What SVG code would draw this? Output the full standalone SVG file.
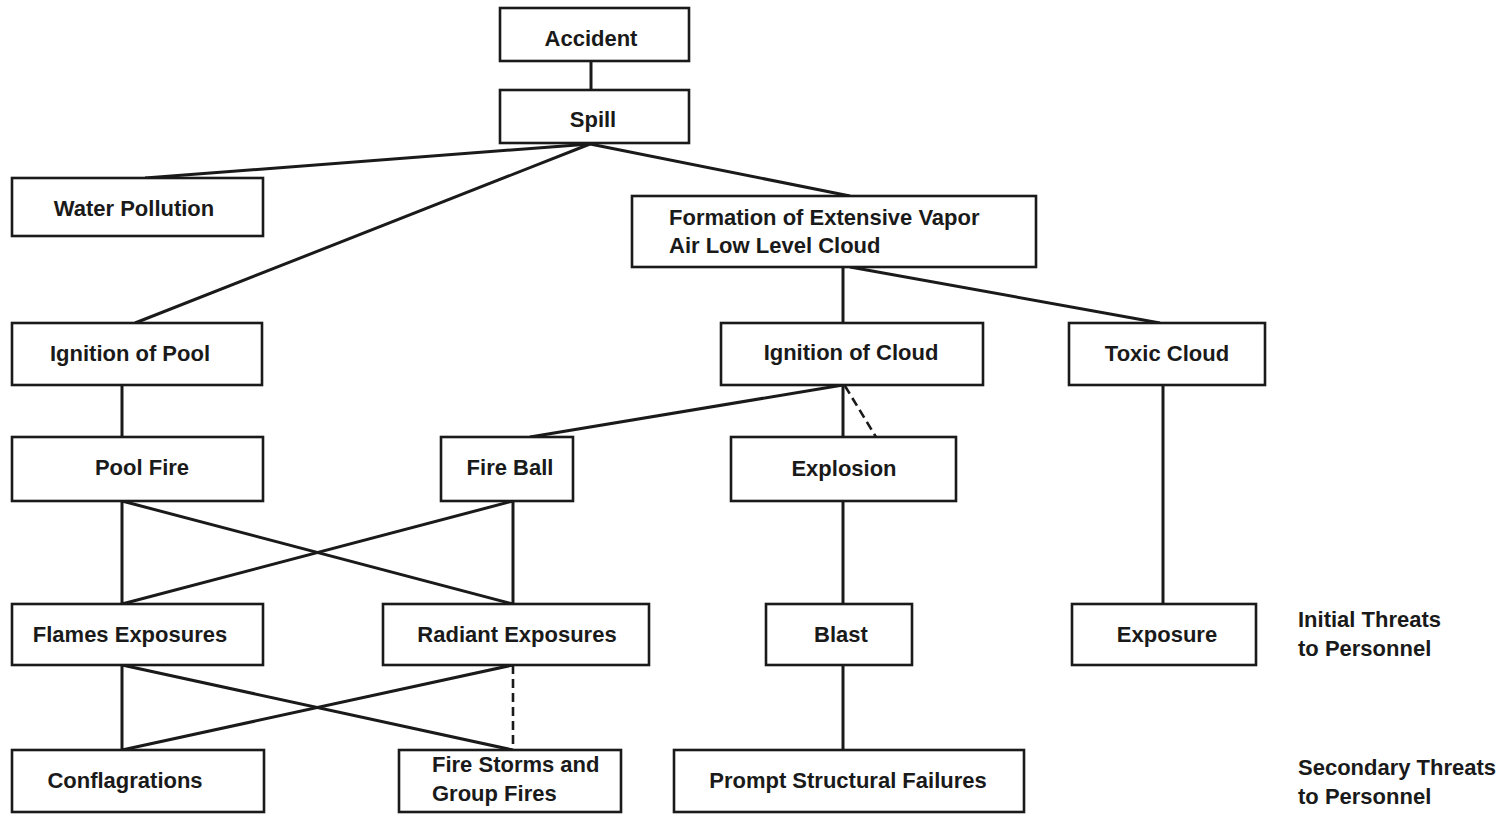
<svg xmlns="http://www.w3.org/2000/svg" width="1508" height="814" viewBox="0 0 1508 814">
<style>
rect{fill:#fff;stroke:#1a1a1a;stroke-width:2.6}
text{font-family:"Liberation Sans",Arial,sans-serif;font-weight:bold;font-size:22px;fill:#1a1a1a}
.m{text-anchor:middle}
#connectors line{stroke:#1a1a1a;stroke-width:3;fill:none}
#connectors .d{stroke-dasharray:9 5;stroke-width:2.6}
</style>
<rect x="0" y="0" width="1508" height="814" style="fill:#fff;stroke:none"/>
<g id="connectors">
<line x1="591" y1="61" x2="591" y2="90"/>
<line x1="590" y1="144" x2="145" y2="178"/>
<line x1="590" y1="144" x2="135" y2="323"/>
<line x1="590" y1="144" x2="850" y2="196"/>
<line x1="843" y1="267" x2="843" y2="323"/>
<line x1="850" y1="267" x2="1160" y2="323"/>
<line x1="122" y1="385" x2="122" y2="437"/>
<line x1="843" y1="385" x2="530" y2="437"/>
<line x1="843" y1="385" x2="843" y2="437"/>
<line class="d" x1="845" y1="386" x2="876" y2="437"/>
<line x1="1163" y1="385" x2="1163" y2="604"/>
<line x1="122" y1="501" x2="122" y2="604"/>
<line x1="122" y1="501" x2="513" y2="604"/>
<line x1="513" y1="501" x2="122" y2="604"/>
<line x1="513" y1="501" x2="513" y2="604"/>
<line x1="843" y1="501" x2="843" y2="604"/>
<line x1="122" y1="665" x2="122" y2="750"/>
<line x1="122" y1="665" x2="513" y2="750"/>
<line x1="513" y1="665" x2="122" y2="750"/>
<line class="d" x1="513" y1="665" x2="513" y2="750"/>
<line x1="843" y1="665" x2="843" y2="750"/>
</g>
<g id="accident"><rect x="500" y="8" width="189" height="53"/><text class="m" x="591" y="46">Accident</text></g>
<g id="spill"><rect x="500" y="90" width="189" height="53"/><text class="m" x="593" y="127">Spill</text></g>
<g id="water-pollution"><rect x="12" y="178" width="251" height="58"/><text class="m" x="134" y="216">Water Pollution</text></g>
<g id="formation"><rect x="632" y="196" width="404" height="71"/><text x="669" y="225">Formation of Extensive Vapor</text><text x="669" y="253">Air Low Level Cloud</text></g>
<g id="ignition-pool"><rect x="12" y="323" width="250" height="62"/><text class="m" x="130" y="361">Ignition of Pool</text></g>
<g id="ignition-cloud"><rect x="721" y="323" width="262" height="62"/><text class="m" x="851" y="360">Ignition of Cloud</text></g>
<g id="toxic-cloud"><rect x="1069" y="323" width="196" height="62"/><text class="m" x="1167" y="361">Toxic Cloud</text></g>
<g id="pool-fire"><rect x="12" y="437" width="251" height="64"/><text class="m" x="142" y="475">Pool Fire</text></g>
<g id="fire-ball"><rect x="441" y="437" width="132" height="64"/><text class="m" x="510" y="475">Fire Ball</text></g>
<g id="explosion"><rect x="731" y="437" width="225" height="64"/><text class="m" x="844" y="476">Explosion</text></g>
<g id="flames-exposures"><rect x="12" y="604" width="251" height="61"/><text class="m" x="130" y="642">Flames Exposures</text></g>
<g id="radiant-exposures"><rect x="383" y="604" width="266" height="61"/><text class="m" x="517" y="642">Radiant Exposures</text></g>
<g id="blast"><rect x="766" y="604" width="146" height="61"/><text class="m" x="841" y="642">Blast</text></g>
<g id="exposure"><rect x="1072" y="604" width="184" height="61"/><text class="m" x="1167" y="642">Exposure</text></g>
<g id="conflagrations"><rect x="12" y="750" width="252" height="62"/><text class="m" x="125" y="788">Conflagrations</text></g>
<g id="fire-storms"><rect x="399" y="750" width="222" height="62"/><text x="432" y="772">Fire Storms and</text><text x="432" y="801">Group Fires</text></g>
<g id="prompt-structural"><rect x="674" y="750" width="350" height="62"/><text class="m" x="848" y="788">Prompt Structural Failures</text></g>
<g id="labels"><text x="1298" y="627">Initial Threats</text><text x="1298" y="656">to Personnel</text><text x="1298" y="775">Secondary Threats</text><text x="1298" y="804">to Personnel</text></g>
</svg>
